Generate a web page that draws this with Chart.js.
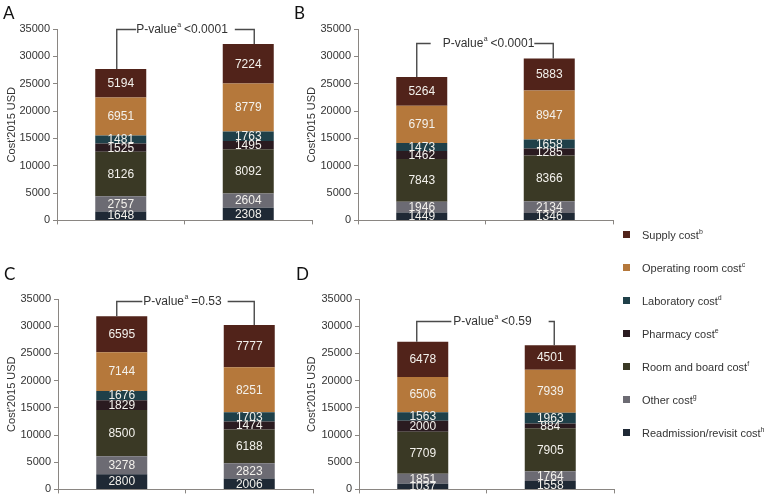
<!DOCTYPE html>
<html><head><meta charset="utf-8">
<script src="https://cdn.jsdelivr.net/npm/chart.js@4.4.1/dist/chart.umd.min.js"></script>
<style>
body{margin:0;background:#fff;width:774px;height:499px;overflow:hidden;position:relative;font-family:"Liberation Sans",Arial,sans-serif;}
canvas{position:absolute;}
.letter{position:absolute;font-family:Lato,"Liberation Sans",sans-serif;font-size:17px;line-height:1;color:#111;}
.lg{position:absolute;font-size:11px;line-height:12px;color:#333;white-space:nowrap;z-index:5;}
.lg .sq{position:absolute;width:7px;height:7px;top:2px;}
.lg .tx{position:absolute;left:19px;top:0;}
.lg sup{font-size:7px;line-height:0;vertical-align:5px;}
</style></head>
<body>
<canvas id="cA" width="320" height="230" style="left:0;top:0"></canvas>
<canvas id="cB" width="320" height="230" style="left:300px;top:0"></canvas>
<canvas id="cC" width="322" height="249" style="left:0;top:250px"></canvas>
<canvas id="cD" width="322" height="249" style="left:300px;top:250px"></canvas>
<div class="letter" style="left:3px;top:4px">A</div>
<div class="letter" style="left:294px;top:4px">B</div>
<div class="letter" style="left:4px;top:265px">C</div>
<div class="letter" style="left:296px;top:265px">D</div>
<div id="legend"></div>
<script>
// ---- categories / series ----
const groups = ['Group 1', 'Group 2'];
const seriesNames = ['Readmission/revisit cost', 'Other cost', 'Room and board cost', 'Pharmacy cost', 'Laboratory cost', 'Operating room cost', 'Supply cost'];
const seriesSup = ['h', 'g', 'f', 'e', 'd', 'c', 'b'];
const seriesColors = ['#1f2935', '#6c6b73', '#3a3925', '#2a1b20', '#1f4049', '#b5783b', '#51231a'];
const yTicks = [0, 5000, 10000, 15000, 20000, 25000, 30000, 35000];

// ---- Panel A ----
const A_readmission = [1648, 2308];
const A_other       = [2757, 2604];
const A_room        = [8126, 8092];
const A_pharmacy    = [1525, 1495];
const A_lab         = [1481, 1763];
const A_operating   = [6951, 8779];
const A_supply      = [5194, 7224];
// ---- Panel B ----
const B_readmission = [1449, 1346];
const B_other       = [1946, 2134];
const B_room        = [7843, 8366];
const B_pharmacy    = [1462, 1285];
const B_lab         = [1473, 1658];
const B_operating   = [6791, 8947];
const B_supply      = [5264, 5883];
// ---- Panel C ----
const C_readmission = [2800, 2006];
const C_other       = [3278, 2823];
const C_room        = [8500, 6188];
const C_pharmacy    = [1829, 1474];
const C_lab         = [1676, 1703];
const C_operating   = [7144, 8251];
const C_supply      = [6595, 7777];
// ---- Panel D ----
const D_readmission = [1037, 1558];
const D_other       = [1851, 1764];
const D_room        = [7709, 7905];
const D_pharmacy    = [2000, 884];
const D_lab         = [1563, 1963];
const D_operating   = [6506, 7939];
const D_supply      = [6478, 4501];

// p-value annotations
const pTexts = ['<0.0001', '<0.0001', '=0.53', '<0.59'];
const pLevels = [35000, 32500, 34700, 31000];

const FONT = '"Liberation Sans", Arial, sans-serif';
const axisColor = '#8a8682';

const bracketPlugin = {
  id: 'bracket',
  afterDatasetsDraw(chart, args, o) {
    const {ctx, scales: {x, y}} = chart;
    const ds = chart.data.datasets;
    const tot = [0, 1].map(i => ds.reduce((s, d) => s + d.data[i], 0));
    const x1 = x.getPixelForValue(0) + o.dx1, x2 = x.getPixelForValue(1) + o.dx2;
    const yl = Math.round(y.getPixelForValue(o.level)) + 0.5;
    const y1 = y.getPixelForValue(tot[0]), y2 = y.getPixelForValue(tot[1]);
    ctx.save();
    const mf = '12px ' + FONT, sf = '7px ' + FONT;
    ctx.font = mf; const w1 = ctx.measureText('P-value').width;
    ctx.font = sf; const ws = ctx.measureText('a').width;
    ctx.font = mf; const w2 = ctx.measureText(' ' + o.text).width;
    const tw = w1 + ws + w2;
    const cx = (x.left + x.right) / 2 + o.shift;
    const t0 = cx - tw / 2, t1 = cx + tw / 2;
    ctx.strokeStyle = '#4a4a4a'; ctx.lineWidth = 1.4;
    ctx.beginPath();
    ctx.moveTo(x1, y1); ctx.lineTo(x1, yl); ctx.lineTo(t0 - o.gapL, yl);
    ctx.moveTo(t1 + o.gapR, yl); ctx.lineTo(x2, yl); ctx.lineTo(x2, y2);
    ctx.stroke();
    ctx.fillStyle = '#333'; ctx.textBaseline = 'middle'; ctx.textAlign = 'left';
    ctx.fillText('P-value', t0, yl);
    ctx.font = sf; ctx.fillText('a', t0 + w1 + 0.5, yl - 4);
    ctx.font = mf; ctx.fillText(' ' + o.text, t0 + w1 + ws, yl);
    ctx.restore();
  }
};

const labelPlugin = {
  id: 'seglabels',
  afterDatasetsDraw(chart) {
    const ctx = chart.ctx;
    ctx.save();
    ctx.font = '12px ' + FONT;
    ctx.fillStyle = '#f3f1ec';
    ctx.textAlign = 'center'; ctx.textBaseline = 'middle';
    chart.data.datasets.forEach((ds, i) => {
      chart.getDatasetMeta(i).data.forEach((el, j) => {
        ctx.fillText(String(ds.data[j]), el.x, (el.y + el.base) / 2 + 0.5);
      });
    });
    ctx.restore();
  }
};

function makePanel(id, series, frame, bracket) {
  new Chart(document.getElementById(id), {
    type: 'bar',
    data: {
      labels: groups,
      datasets: series.map((d, i) => ({
        label: seriesNames[i], data: d, backgroundColor: seriesColors[i],
        borderWidth: 0, barPercentage: 1, categoryPercentage: 0.4
      }))
    },
    options: {
      responsive: false, animation: false, events: [],
      layout: {padding: {top: frame.top, right: frame.right, left: 0, bottom: 0}},
      plugins: {legend: {display: false}, tooltip: {enabled: false}, bracket: bracket},
      scales: {
        x: {
          stacked: true,
          grid: {display: true, drawOnChartArea: false, drawTicks: true, tickLength: 4, color: axisColor, offset: true},
          border: {display: true, color: axisColor, width: 1},
          ticks: {display: false},
          afterFit(s) { s.height = frame.xh; }
        },
        y: {
          stacked: true, min: 0, max: 35000,
          afterBuildTicks(s) { s.ticks = yTicks.map(v => ({value: v})); },
          ticks: {color: '#333', font: {size: 11, family: FONT}, padding: 3, callback: v => String(v)},
          grid: {display: true, drawOnChartArea: false, drawTicks: true, tickLength: 4, color: axisColor},
          border: {display: true, color: axisColor, width: 1},
          title: {display: true, text: "Cost'2015 USD", color: '#333', font: {size: 11, family: FONT}, padding: {top: 5, bottom: 0}},
          afterFit(s) { s.width = frame.yw; }
        }
      }
    },
    plugins: [labelPlugin, bracketPlugin]
  });
}

makePanel('cA', [A_readmission, A_other, A_room, A_pharmacy, A_lab, A_operating, A_supply],
  {top: 29, right: 8, xh: 7, yw: 57},
  {text: pTexts[0], level: pLevels[0], dx1: -4, dx2: 6, shift: -2.5, gapL: 0, gapR: 7});
makePanel('cB', [B_readmission, B_other, B_room, B_pharmacy, B_lab, B_operating, B_supply],
  {top: 29, right: 7, xh: 7, yw: 58},
  {text: pTexts[1], level: pLevels[1], dx1: -5, dx2: 4, shift: 3, gapL: 12, gapR: 0});
makePanel('cC', [C_readmission, C_other, C_room, C_pharmacy, C_lab, C_operating, C_supply],
  {top: 49, right: 9, xh: 5, yw: 58},
  {text: pTexts[2], level: pLevels[2], dx1: -5, dx2: 5, shift: -3, gapL: 1, gapR: 6});
makePanel('cD', [D_readmission, D_other, D_room, D_pharmacy, D_lab, D_operating, D_supply],
  {top: 49, right: 8, xh: 4, yw: 59},
  {text: pTexts[3], level: pLevels[3], dx1: -6, dx2: 4, shift: 6, gapL: 2, gapR: 17});

// legend (Supply first, top to bottom)
const lg = document.getElementById('legend');
for (let k = seriesNames.length - 1, r = 0; k >= 0; k--, r++) {
  const d = document.createElement('div');
  d.className = 'lg';
  d.style.left = '623px';
  d.style.top = (229 + r * 33) + 'px';
  d.innerHTML = '<span class="sq" style="background:' + seriesColors[k] + '"></span><span class="tx">' +
    seriesNames[k] + '<sup>' + seriesSup[k] + '</sup></span>';
  lg.appendChild(d);
}
</script>
</body></html>
